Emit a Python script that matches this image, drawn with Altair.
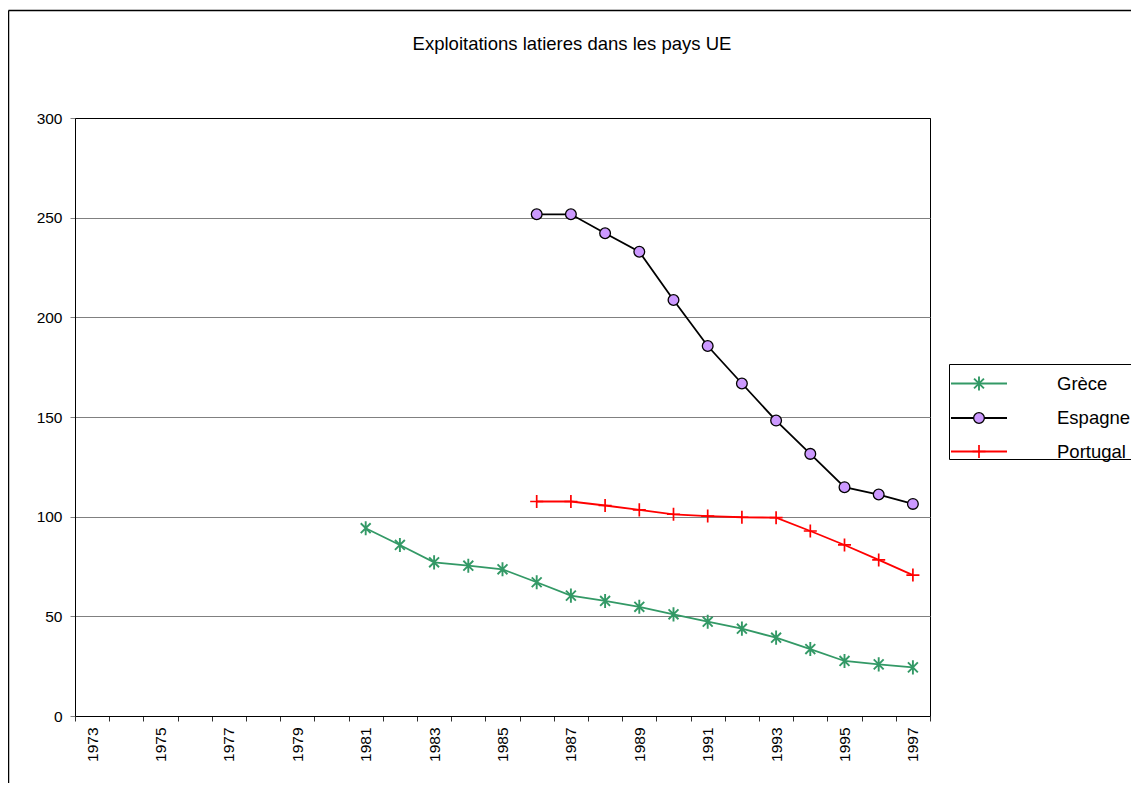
import altair as alt
import pandas as pd

TITLE = "Exploitations latieres dans les pays UE"
years = list(range(1973, 1998))
series_names = ["Grèce", "Espagne", "Portugal"]

grece_years = list(range(1981, 1998))
grece_values = [94.2, 85.8, 77.1, 75.4, 73.6, 67.1, 60.4, 57.7, 54.8, 51.0,
                47.3, 43.8, 39.3, 33.6, 27.6, 25.9, 24.4]
espagne_years = list(range(1986, 1998))
espagne_values = [251.7, 251.7, 242.2, 232.9, 208.7, 185.6, 166.8, 148.2,
                  131.5, 114.8, 111.1, 106.4]
portugal_years = list(range(1986, 1998))
portugal_values = [107.6, 107.6, 105.6, 103.4, 101.2, 100.3, 99.7, 99.5,
                   92.8, 85.8, 78.3, 70.7]
y_ticks = [0, 50, 100, 150, 200, 250, 300]

rows = []
for name, ys, vs in [("Grèce", grece_years, grece_values),
                     ("Espagne", espagne_years, espagne_values),
                     ("Portugal", portugal_years, portugal_values)]:
    for yr, v in zip(ys, vs):
        rows.append({"series": name, "year": yr, "value": v})
df = pd.DataFrame(rows)

FONT = "Liberation Sans"
ASTERISK = "M-0.7,-0.7L0.7,0.7M-0.7,0.7L0.7,-0.7M0,-1L0,1"
PLUS = "M-1,0L1,0M0,-1L0,1"

styles = {
    "Grèce": dict(line="#339966", shape=ASTERISK, fill=None, stroke="#339966", size=200, sw=1.9),
    "Espagne": dict(line="#000000", shape="circle", fill="#CC99FF", stroke="#000000", size=115, sw=1.3),
    "Portugal": dict(line="#FF0000", shape=PLUS, fill=None, stroke="#FF0000", size=170, sw=1.7),
}

x_enc = alt.X(
    "year:O",
    scale=alt.Scale(type="band", domain=years, paddingInner=0, paddingOuter=0),
    axis=alt.Axis(
        title=None, tickBand="extent", labelAngle=-90, labelAlign="right",
        labelBaseline="middle",
        labelExpr="datum.value % 2 == 1 ? datum.label : ''",
        labelOverlap=False, labelFont=FONT, labelFontSize=15.5, labelColor="black",
        tickColor="#303030", tickSize=5, labelPadding=6, domainColor="black",
        grid=False,
    ),
)
y_enc = alt.Y(
    "value:Q",
    scale=alt.Scale(domain=[0, 300], nice=False),
    axis=alt.Axis(
        title=None, values=y_ticks, grid=True,
        gridColor={"condition": {"test": "datum.value === 300", "value": "black"},
                   "value": "#808080"},
        gridWidth=1, labelFont=FONT, labelFontSize=15.5, labelColor="black",
        tickColor="#808080", tickSize=5, labelPadding=8, domainColor="black",
    ),
)

layers = []
for name in series_names:
    st = styles[name]
    base = alt.Chart(df).transform_filter(alt.datum.series == name)
    layers.append(base.mark_line(color=st["line"], strokeWidth=1.8).encode(x=x_enc, y=y_enc))
    if st["fill"]:
        pt = base.mark_point(shape=st["shape"], size=st["size"], filled=True,
                             fill=st["fill"], stroke=st["stroke"], strokeWidth=st["sw"], opacity=1)
    else:
        pt = base.mark_point(shape=st["shape"], size=st["size"], filled=False,
                             stroke=st["stroke"], strokeWidth=st["sw"], opacity=1)
    layers.append(pt.encode(x=x_enc, y=y_enc))

# title
title_df = pd.DataFrame({"t": [TITLE]})
layers.append(alt.Chart(title_df).mark_text(font=FONT, fontSize=18.5, color="black",
                                            align="center", baseline="middle")
              .encode(text="t:N", x=alt.value(497), y=alt.value(-74)))

# outer frame (decoration)
frame_df = pd.DataFrame({"k": [0]})
layers.append(alt.Chart(frame_df).mark_rule(color="black", strokeWidth=1.5)
              .encode(x=alt.value(-66.5), x2=alt.value(1200), y=alt.value(-107.5)))
layers.append(alt.Chart(frame_df).mark_rule(color="black", strokeWidth=1.5)
              .encode(x=alt.value(-66.5), y=alt.value(-107.5), y2=alt.value(800)))

# legend box
layers.append(alt.Chart(frame_df).mark_rect(fill="white", stroke="black", strokeWidth=1)
              .encode(x=alt.value(874.5), x2=alt.value(1300), y=alt.value(246.5), y2=alt.value(341.5)))
leg_y = [265.5, 300, 333.5]
for i, name in enumerate(series_names):
    st = styles[name]
    ldf = pd.DataFrame({"series": [name]})
    lb = alt.Chart(ldf)
    layers.append(lb.mark_rule(color=st["line"], strokeWidth=1.8)
                  .encode(x=alt.value(876), x2=alt.value(932), y=alt.value(leg_y[i])))
    if st["fill"]:
        lp = lb.mark_point(shape=st["shape"], size=st["size"], filled=True,
                           fill=st["fill"], stroke=st["stroke"], strokeWidth=st["sw"], opacity=1)
    else:
        lp = lb.mark_point(shape=st["shape"], size=st["size"], filled=False,
                           stroke=st["stroke"], strokeWidth=st["sw"], opacity=1)
    layers.append(lp.encode(x=alt.value(904), y=alt.value(leg_y[i])))
    layers.append(lb.mark_text(font=FONT, fontSize=18.5, color="black", align="left",
                               baseline="middle")
                  .encode(text="series:N", x=alt.value(982), y=alt.value(leg_y[i])))

chart = alt.layer(*layers).properties(
    width=855, height=598,
    padding={"left": 67, "top": 110, "right": 201, "bottom": 67},
    autosize=alt.AutoSizeParams(type="none"),
    background="white",
).configure_view(stroke="black", strokeWidth=1)

chart.save("out.html", embed_options={"renderer": "svg", "actions": False})
